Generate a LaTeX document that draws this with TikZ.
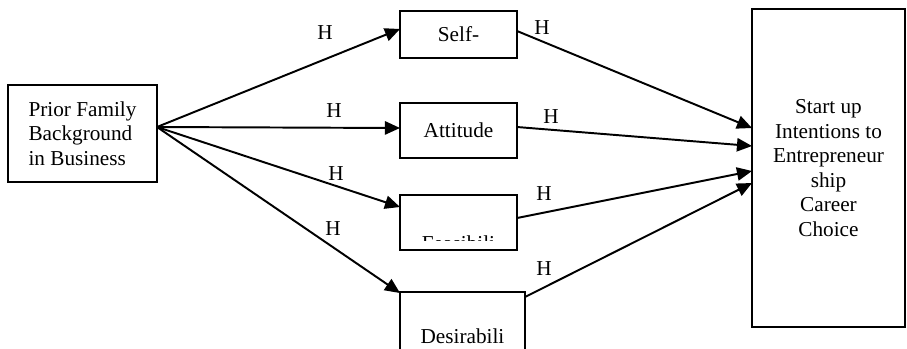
\documentclass[tikz,border=0pt]{standalone}
\usepackage{fontspec}
\setmainfont{Liberation Serif}
\usetikzlibrary{arrows.meta}
\begin{document}
\begin{tikzpicture}[x=0.565pt,y=-0.565pt,
  every node/.style={font=\fontsize{12}{13.8}\selectfont, inner sep=0pt},
  box/.style={draw, line width=0.7pt},
  arr/.style={-{Triangle[length=8.5pt,width=7.5pt]}, line width=1.1pt},
  lbl/.style={anchor=center}]
\useasboundingbox (0,0) rectangle (907,348);
\clip (0,0) rectangle (907,348);
% boxes
\node[box, minimum width={149*0.565pt}, minimum height={97*0.565pt}, align=left] (prior) at (82.5,133.5) {Prior Family\\Background\\in Business};
\node[box, minimum width={117*0.565pt}, minimum height={47*0.565pt}] (self) at (458.5,34.5) {Self-};
\node[box, minimum width={117*0.565pt}, minimum height={55*0.565pt}] (att) at (458.5,130.5) {Attitude};
\node[box, minimum width={117*0.565pt}, minimum height={55*0.565pt}] (feas) at (458.5,222.5) {};
\node[box, minimum width={125*0.565pt}, minimum height={70*0.565pt}] (des) at (462.5,327) {};
\node[box, minimum width={153*0.565pt}, minimum height={318*0.565pt}, align=center] (out) at (828.5,168) {Start up\\Intentions to\\Entrepreneur\\ship\\Career\\Choice};
% clipped texts
\begin{scope}
  \clip (400,195) rectangle (517,240.5);
  \node[anchor=base] (feastext) at (458.5,250) {Feasibili};
\end{scope}
\node[anchor=base] (destext) at (462.5,343) {Desirabili};
% connector end points
\coordinate (p0) at (157,127);
\coordinate (s_in) at (400,29);
\coordinate (a_in) at (400,128);
\coordinate (f_in) at (400,207);
\coordinate (d_in) at (400,293);
\coordinate (s_out) at (517,31);
\coordinate (a_out) at (517,127);
\coordinate (f_out) at (517,218);
\coordinate (d_out) at (525,297);
\coordinate (o1) at (752,128);
\coordinate (o2) at (752,146);
\coordinate (o3) at (752,171);
\coordinate (o4) at (752,183);
% arrows
\draw[arr] (p0) -- (s_in);
\draw[arr] (p0) -- (a_in);
\draw[arr] (p0) -- (f_in);
\draw[arr] (p0) -- (d_in);
\draw[arr] (s_out) -- (o1);
\draw[arr] (a_out) -- (o2);
\draw[arr] (f_out) -- (o3);
\draw[arr] (d_out) -- (o4);
% labels
\node[lbl] (h1) at (325,33) {H};
\node[lbl] (h2) at (334,111) {H};
\node[lbl] (h3) at (336,174) {H};
\node[lbl] (h4) at (333,229) {H};
\node[lbl] (h5) at (542,28) {H};
\node[lbl] (h6) at (551,117) {H};
\node[lbl] (h7) at (544,194) {H};
\node[lbl] (h8) at (544,269) {H};
\end{tikzpicture}
\end{document}
